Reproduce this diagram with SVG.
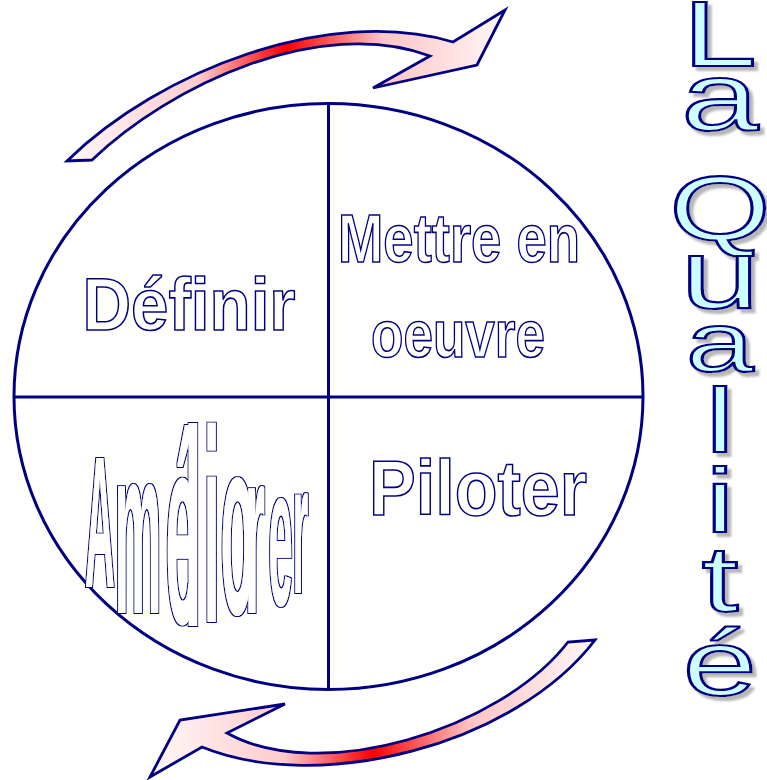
<svg xmlns="http://www.w3.org/2000/svg" width="767" height="780" viewBox="0 0 767 780">
<style>
.line{fill:none;stroke:#000080;stroke-width:3}
.arrow{fill:url(#grad);stroke:#000080;stroke-width:2.8;stroke-linejoin:miter}
.lbl{font-family:"Liberation Sans",Arial,sans-serif;font-weight:bold;fill:#fff;stroke:#000080;stroke-width:1.6;text-anchor:middle}
.amel{font-family:"Liberation Sans",Arial,sans-serif;font-weight:bold;fill:#fff}
.qual{font-family:"Liberation Sans",Arial,sans-serif;fill:#ccffff;stroke:#000080;stroke-width:2.2;text-anchor:middle}
</style>
<defs>
<linearGradient id="grad" x1="0" y1="0" x2="1" y2="0">
<stop offset="0" stop-color="#fff8f8"/>
<stop offset="0.3" stop-color="#ffcccc"/>
<stop offset="0.5" stop-color="#ff0000"/>
<stop offset="0.72" stop-color="#ffc4c4"/>
<stop offset="1" stop-color="#fff8f8"/>
</linearGradient>
<filter id="shadow" x="-30%" y="-10%" width="160%" height="130%">
<feOffset in="SourceAlpha" dx="3" dy="4" result="off"/>
<feGaussianBlur in="off" stdDeviation="0.8" result="blur"/>
<feFlood flood-color="#b8b8b8"/>
<feComposite in2="blur" operator="in" result="sh"/>
<feMerge><feMergeNode in="sh"/><feMergeNode in="SourceGraphic"/></feMerge>
</filter>
<filter id="outline" x="-10%" y="-10%" width="120%" height="120%">
<feMorphology in="SourceAlpha" operator="dilate" radius="1.3" result="dil"/>
<feFlood flood-color="#000080"/>
<feComposite in2="dil" operator="in" result="ol"/>
<feMorphology in="SourceAlpha" operator="erode" radius="0.3" result="ero"/>
<feFlood flood-color="#ffffff"/>
<feComposite in2="ero" operator="in" result="inner"/>
<feMerge><feMergeNode in="ol"/><feMergeNode in="inner"/></feMerge>
</filter>
</defs>

<g id="connectors">
<path id="arrow-top" class="arrow" d="M67,161 C160,70 330,5 453,42 L505,10 L477,65 L373,88 L430,56 C320,15 170,85 92,160 Z"/>
<path id="arrow-bottom" class="arrow" d="M595,640 C515,745 320,795 202,747 L150,777 L180,720 L285,704 L227,733 C320,785 500,730 568,642 Z"/>
</g>

<g id="circle">
<ellipse class="line" cx="328.5" cy="396.5" rx="314.5" ry="293"/>
<line class="line" x1="328.5" y1="103.5" x2="328.5" y2="689.5"/>
<line class="line" x1="14" y1="397" x2="643" y2="397"/>
</g>

<g id="definir">
<text class="lbl" x="189" y="330" font-size="74" textLength="213" lengthAdjust="spacingAndGlyphs">Définir</text>
</g>
<g id="mettre-en-oeuvre">
<text class="lbl" x="459" y="262" font-size="68" textLength="242" lengthAdjust="spacingAndGlyphs">Mettre en</text>
<text class="lbl" x="458" y="357" font-size="66" textLength="174" lengthAdjust="spacingAndGlyphs">oeuvre</text>
</g>
<g id="piloter">
<text class="lbl" x="478" y="515" font-size="78" textLength="218" lengthAdjust="spacingAndGlyphs">Piloter</text>
</g>
<g id="ameliorer" filter="url(#outline)">
<text class="amel" transform="scale(0.22,1)"><tspan x="386" y="587" font-size="187">A</tspan><tspan x="520" y="613" font-size="240">m</tspan><tspan x="752" y="623" font-size="270">é</tspan><tspan x="838" y="626" font-size="280">l</tspan><tspan x="924" y="622" font-size="275">i</tspan><tspan x="1002" y="614" font-size="252">o</tspan><tspan x="1112" y="613" font-size="236">r</tspan><tspan x="1220" y="605" font-size="198">e</tspan><tspan x="1330" y="593" font-size="185">r</tspan></text>
</g>
<g id="la-qualite">
<text class="qual" transform="scale(1.45,1)" filter="url(#shadow)"><tspan x="496.5" y="66" font-size="92">L</tspan><tspan x="496.5" y="130" font-size="96">a</tspan><tspan x="496.5" y="150" font-size="20"> </tspan><tspan x="496.5" y="240" font-size="90">Q</tspan><tspan x="496.5" y="308" font-size="98">u</tspan><tspan x="496.5" y="371" font-size="84">a</tspan><tspan x="496.5" y="452" font-size="90">l</tspan><tspan x="496.5" y="532" font-size="90">i</tspan><tspan x="496.5" y="611" font-size="92">t</tspan><tspan x="496.5" y="695" font-size="92">é</tspan></text>
</g>
</svg>
